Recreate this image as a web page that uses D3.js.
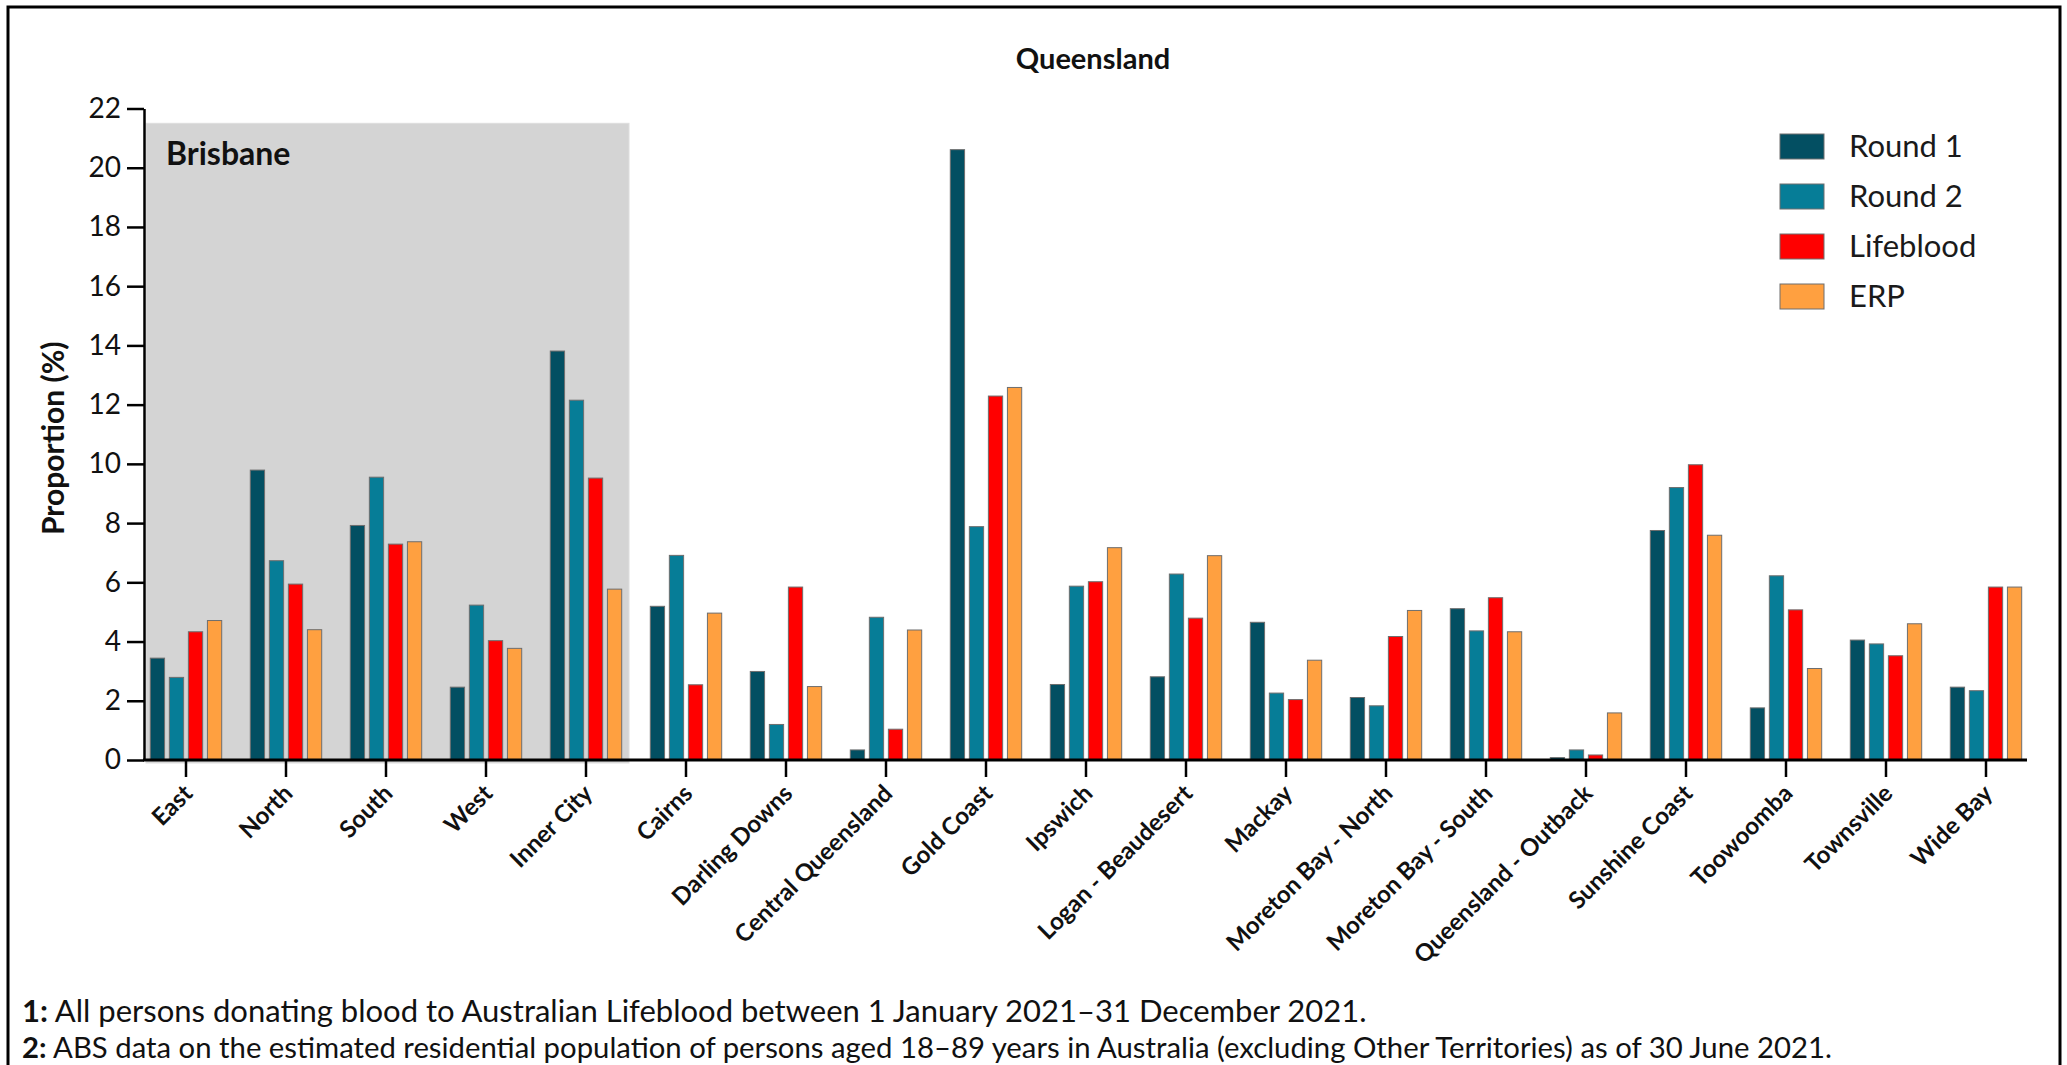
<!DOCTYPE html>
<html>
<head>
<meta charset="utf-8">
<script src="https://cdn.jsdelivr.net/npm/d3@7"></script>
<style>
  html, body { margin: 0; padding: 0; background: #fff; }
  svg { display: block; font-family: Lato, "Open Sans", sans-serif; }
</style>
</head>
<body>
<svg id="chart" width="2067" height="1065"></svg>
<script>
// ---------- data ----------
const categories = ["East","North","South","West","Inner City","Cairns","Darling Downs","Central Queensland","Gold Coast","Ipswich","Logan - Beaudesert","Mackay","Moreton Bay - North","Moreton Bay - South","Queensland - Outback","Sunshine Coast","Toowoomba","Townsville","Wide Bay"];
const round1    = [3.44, 9.79, 7.92, 2.46, 13.81, 5.19, 2.99, 0.34, 20.61, 2.55, 2.81, 4.65, 2.11, 5.11, 0.08, 7.75, 1.76, 4.05, 2.46];
const round2    = [2.79, 6.73, 9.55, 5.23, 12.15, 6.91, 1.20, 4.82, 7.88, 5.87, 6.28, 2.26, 1.83, 4.36, 0.34, 9.20, 6.22, 3.92, 2.34];
const lifeblood = [4.33, 5.94, 7.29, 4.03, 9.52, 2.54, 5.84, 1.04, 12.29, 6.02, 4.79, 2.04, 4.17, 5.48, 0.17, 9.97, 5.07, 3.52, 5.84];
const erp       = [4.71, 4.40, 7.37, 3.77, 5.77, 4.96, 2.48, 4.39, 12.58, 7.17, 6.90, 3.37, 5.05, 4.33, 1.59, 7.59, 3.09, 4.60, 5.84];
const seriesNames = ["Round 1", "Round 2", "Lifeblood", "ERP"];
const seriesColors = ["#034f62", "#067d97", "#ff0000", "#ffa040"];
const yTicks = [0, 2, 4, 6, 8, 10, 12, 14, 16, 18, 20, 22];
const brisbaneAreas = ["East", "North", "South", "West", "Inner City"];
const brisbaneTop = 21.5;
const titleText = "Queensland";
const yLabel = "Proportion (%)";
const footnotes = [
  ["1:", " All persons donating blood to Australian Lifeblood between 1 January 2021\u201331 December 2021."],
  ["2:", " ABS data on the estimated residential population of persons aged 18\u201389 years in Australia (excluding Other Territories) as of 30 June 2021."]
];
const footnoteSizes = [31, 29.3];

// ---------- layout ----------
const svg = d3.select("#chart");
const axisX = 144, baseY = 760;
const x = d3.scaleBand().domain(categories).range([136, 2036]).padding(0);
const xs = d3.scaleBand().domain(seriesNames).range([-35.7, 35.7]).paddingInner(0.25);
const y = d3.scaleLinear().domain([0, 22]).range([baseY, 108.5]);
const color = d3.scaleOrdinal().domain(seriesNames).range(seriesColors);
const values = [round1, round2, lifeblood, erp];

// frame
svg.append("rect").attr("x", 8).attr("y", 7).attr("width", 2052).attr("height", 1100)
  .attr("fill", "none").attr("stroke", "#000").attr("stroke-width", 3);

// Brisbane shaded region
const bx0 = axisX + 2;
const bx1 = x(brisbaneAreas[brisbaneAreas.length - 1]) + x.bandwidth() - 7;
svg.append("rect").attr("x", bx0).attr("y", y(brisbaneTop))
  .attr("width", bx1 - bx0).attr("height", y(0) - y(brisbaneTop) + 3)
  .attr("fill", "#d4d4d4").attr("stroke", "#dedede").attr("stroke-width", 1);
svg.append("text").attr("x", bx0 + 20).attr("y", y(brisbaneTop) + 42)
  .attr("font-size", 32).attr("font-weight", "bold").attr("fill", "#111").text("Brisbane");

// title
svg.append("text").attr("x", 1093).attr("y", 69).attr("text-anchor", "middle")
  .attr("font-size", 29).attr("font-weight", "bold").attr("fill", "#111").text(titleText);

// bars
const groups = svg.append("g").selectAll("g").data(categories).join("g")
  .attr("transform", d => `translate(${x(d) + x.bandwidth() / 2},0)`);
groups.selectAll("rect")
  .data((d, i) => seriesNames.map((s, j) => ({ s, v: values[j][i] })))
  .join("rect")
  .attr("x", d => xs(d.s))
  .attr("width", xs.bandwidth())
  .attr("y", d => y(d.v))
  .attr("height", d => y(0) - y(d.v))
  .attr("fill", d => color(d.s))
  .attr("stroke", "#6e6e6e").attr("stroke-width", 1);

// y axis
const yAxis = d3.axisLeft(y).tickValues(yTicks).tickSize(17).tickPadding(6).tickSizeOuter(0);
const gy = svg.append("g").attr("transform", `translate(${axisX},0)`).call(yAxis);
gy.select(".domain").attr("stroke", "#000").attr("stroke-width", 2.5);
gy.selectAll(".tick line").attr("stroke", "#000").attr("stroke-width", 2.5);
gy.selectAll(".tick text").attr("font-size", 28).attr("font-family", "Lato").attr("fill", "#111");

// x axis
const xAxis = d3.axisBottom(x).tickSize(17).tickSizeOuter(0).tickFormat("");
const gx = svg.append("g").attr("transform", `translate(0,${baseY})`).call(xAxis);
gx.select(".domain").remove();
gx.selectAll(".tick line").attr("stroke", "#000").attr("stroke-width", 2.5);
svg.append("line").attr("x1", axisX - 1).attr("x2", 2027).attr("y1", baseY).attr("y2", baseY)
  .attr("stroke", "#000").attr("stroke-width", 3);
gx.selectAll(".tick").append("text")
  .attr("transform", "translate(8,35) rotate(-45)")
  .attr("text-anchor", "end")
  .attr("font-size", 24).attr("font-weight", "bold").attr("fill", "#111")
  .attr("font-family", "Lato")
  .text(d => d);

// y label
svg.append("text").attr("transform", `translate(64,${(y(0) + y(22)) / 2 + 4}) rotate(-90)`)
  .attr("text-anchor", "middle").attr("font-size", 30).attr("font-weight", "bold").attr("fill", "#111")
  .text(yLabel);

// legend
const lg = svg.append("g").attr("transform", "translate(1780,134)");
const li = lg.selectAll("g").data(seriesNames).join("g").attr("transform", (d, i) => `translate(0,${i * 50})`);
li.append("rect").attr("width", 44).attr("height", 25).attr("fill", d => color(d))
  .attr("stroke", "#6e6e6e").attr("stroke-width", 1);
li.append("text").attr("x", 69).attr("y", 12.5).attr("dy", "0.35em")
  .attr("font-size", 31).attr("fill", "#1a1a1a").text(d => d);

// footnotes
const fn = svg.append("g");
footnotes.forEach((f, i) => {
  const t = fn.append("text").attr("x", 22).attr("y", 1022 + i * 36).attr("font-size", footnoteSizes[i]).attr("fill", "#111");
  t.append("tspan").attr("font-weight", "bold").text(f[0]);
  t.append("tspan").text(f[1]);
});
</script>
</body>
</html>
